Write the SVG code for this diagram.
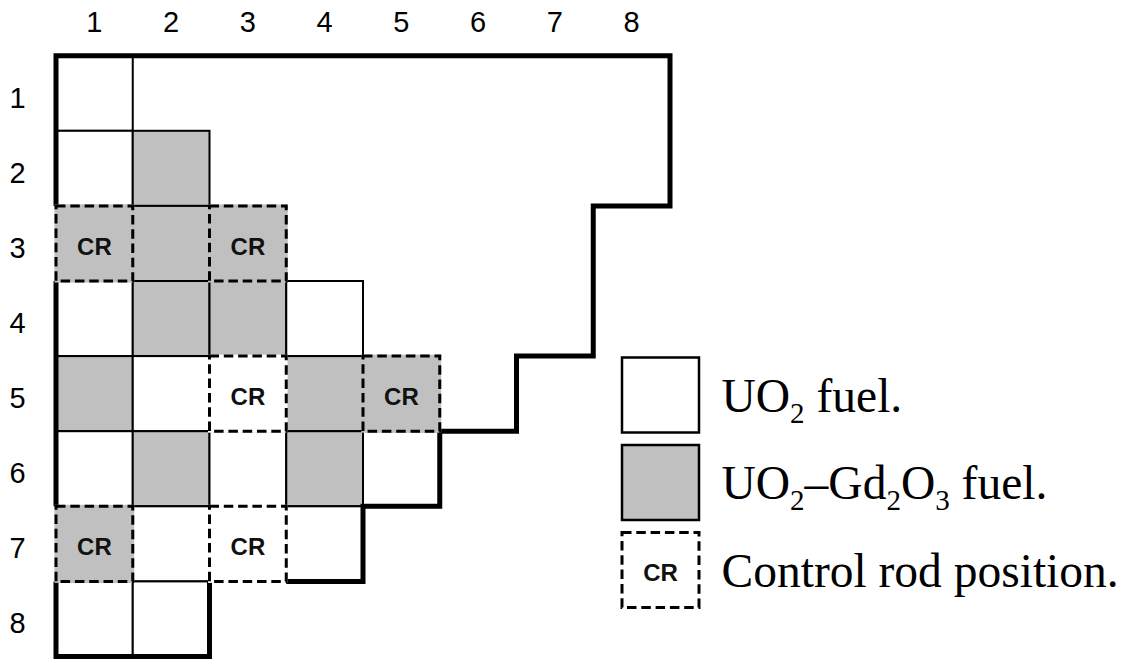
<svg xmlns="http://www.w3.org/2000/svg" width="1129" height="659" viewBox="0 0 1129 659">
  <style>
    .w { fill: #ffffff; stroke: #000; stroke-width: 2; }
    .g { fill: #c0c0c0; stroke: #000; stroke-width: 2; }
    .cr-w { fill: #ffffff; stroke: #ffffff; stroke-width: 3; }
    .cr-g { fill: #c0c0c0; stroke: #c0c0c0; stroke-width: 3; }
    .dash { fill: none; stroke: #000; stroke-width: 3; stroke-dasharray: 9.5 4.8; }
    .outline { fill: none; stroke: #000; stroke-width: 5; stroke-linejoin: miter; stroke-linecap: butt; }
    .idx { font-family: "Liberation Sans", Arial, sans-serif; font-size: 29px; fill: #000; text-anchor: middle; }
    .cr { font-family: "Liberation Sans", Arial, sans-serif; font-size: 24px; font-weight: bold; fill: #111; text-anchor: middle; }
    .leg { font-family: "Liberation Serif", "Times New Roman", serif; font-size: 47.5px; fill: #000; }
    .sub { font-size: 29px; }
  </style>
  <defs>
    <g id="cr-mark">
      <rect class="dash" x="0" y="0" width="76.75" height="75.1"/>
    </g>
  </defs>

  <rect x="0" y="0" width="1129" height="659" fill="#ffffff"/>

  <!-- column indices -->
  <g id="col-labels">
    <text class="idx" x="94.4" y="32.3">1</text>
    <text class="idx" x="171.1" y="32.3">2</text>
    <text class="idx" x="247.9" y="32.3">3</text>
    <text class="idx" x="324.6" y="32.3">4</text>
    <text class="idx" x="401.4" y="32.3">5</text>
    <text class="idx" x="478.1" y="32.3">6</text>
    <text class="idx" x="554.9" y="32.3">7</text>
    <text class="idx" x="631.6" y="32.3">8</text>
  </g>

  <!-- row indices -->
  <g id="row-labels">
    <text class="idx" x="17.5" y="107.5">1</text>
    <text class="idx" x="17.5" y="182.6">2</text>
    <text class="idx" x="17.5" y="257.7">3</text>
    <text class="idx" x="17.5" y="332.8">4</text>
    <text class="idx" x="17.5" y="407.9">5</text>
    <text class="idx" x="17.5" y="483">6</text>
    <text class="idx" x="17.5" y="558.1">7</text>
    <text class="idx" x="17.5" y="633.2">8</text>
  </g>

  <!-- fuel assemblies (plain cells) -->
  <g id="assemblies">
    <rect id="a-1-1" class="w" x="56" y="55.7" width="76.75" height="75.1"/>

    <rect id="a-2-1" class="w" x="56" y="130.8" width="76.75" height="75.1"/>
    <rect id="a-2-2" class="g" x="132.75" y="130.8" width="76.75" height="75.1"/>

    <rect id="a-3-2" class="g" x="132.75" y="205.9" width="76.75" height="75.1"/>

    <rect id="a-4-1" class="w" x="56" y="281" width="76.75" height="75.1"/>
    <rect id="a-4-2" class="g" x="132.75" y="281" width="76.75" height="75.1"/>
    <rect id="a-4-3" class="g" x="209.5" y="281" width="76.75" height="75.1"/>
    <rect id="a-4-4" class="w" x="286.25" y="281" width="76.75" height="75.1"/>

    <rect id="a-5-1" class="g" x="56" y="356.1" width="76.75" height="75.1"/>
    <rect id="a-5-2" class="w" x="132.75" y="356.1" width="76.75" height="75.1"/>
    <rect id="a-5-4" class="g" x="286.25" y="356.1" width="76.75" height="75.1"/>

    <rect id="a-6-1" class="w" x="56" y="431.2" width="76.75" height="75.1"/>
    <rect id="a-6-2" class="g" x="132.75" y="431.2" width="76.75" height="75.1"/>
    <rect id="a-6-3" class="w" x="209.5" y="431.2" width="76.75" height="75.1"/>
    <rect id="a-6-4" class="g" x="286.25" y="431.2" width="76.75" height="75.1"/>
    <rect id="a-6-5" class="w" x="363" y="431.2" width="76.75" height="75.1"/>

    <rect id="a-7-2" class="w" x="132.75" y="506.3" width="76.75" height="75.1"/>
    <rect id="a-7-4" class="w" x="286.25" y="506.3" width="76.75" height="75.1"/>

    <rect id="a-8-1" class="w" x="56" y="581.4" width="76.75" height="75.1"/>
    <rect id="a-8-2" class="w" x="132.75" y="581.4" width="76.75" height="75.1"/>
  </g>

  <!-- core boundary (heavy line) -->
  <g id="core-boundary">
    <path class="outline" d="M56,205.9 V55.7 H670 V205.9 H593.25 V356.1 H516.5 V431.2 H439.75 V506.3 H363 V581.4 H286.25"/>
    <path class="outline" d="M209.5,581.4 V656.5 H56 V581.4"/>
    <path class="outline" d="M56,506.3 V281"/>
  </g>

  <!-- control rod positions -->
  <g id="cr-3-1">
    <rect class="cr-g" x="56" y="205.9" width="76.75" height="75.1"/>
    <use href="#cr-mark" x="56" y="205.9"/>
    <text class="cr" x="94.4" y="254.5">CR</text>
  </g>
  <g id="cr-3-3">
    <rect class="cr-g" x="209.5" y="205.9" width="76.75" height="75.1"/>
    <use href="#cr-mark" x="209.5" y="205.9"/>
    <text class="cr" x="247.9" y="254.5">CR</text>
  </g>
  <g id="cr-5-3">
    <rect class="cr-w" x="209.5" y="356.1" width="76.75" height="75.1"/>
    <use href="#cr-mark" x="209.5" y="356.1"/>
    <text class="cr" x="247.9" y="404.6">CR</text>
  </g>
  <g id="cr-5-5">
    <rect class="cr-g" x="363" y="356.1" width="76.75" height="75.1"/>
    <use href="#cr-mark" x="363" y="356.1"/>
    <text class="cr" x="401.4" y="404.6">CR</text>
  </g>
  <g id="cr-7-1">
    <rect class="cr-g" x="56" y="506.3" width="76.75" height="75.1"/>
    <use href="#cr-mark" x="56" y="506.3"/>
    <text class="cr" x="94.4" y="554.8">CR</text>
  </g>
  <g id="cr-7-3">
    <rect class="cr-w" x="209.5" y="506.3" width="76.75" height="75.1"/>
    <use href="#cr-mark" x="209.5" y="506.3"/>
    <text class="cr" x="247.9" y="554.8">CR</text>
  </g>

  <!-- legend -->
  <g id="legend-uo2">
    <rect x="622" y="357.5" width="77" height="75" fill="#ffffff" stroke="#000" stroke-width="2.5"/>
    <text class="leg" x="721.5" y="411.7">UO<tspan class="sub" dy="11">2</tspan><tspan dy="-11"> fuel.</tspan></text>
  </g>
  <g id="legend-gd">
    <rect x="622" y="445" width="77" height="75" fill="#c0c0c0" stroke="#000" stroke-width="2.5"/>
    <text class="leg" x="721.5" y="499.2">UO<tspan class="sub" dy="11">2</tspan><tspan dy="-11">–Gd</tspan><tspan class="sub" dy="11">2</tspan><tspan dy="-11">O</tspan><tspan class="sub" dy="11">3</tspan><tspan dy="-11"> fuel.</tspan></text>
  </g>
  <g id="legend-cr">
    <rect x="622" y="532.5" width="77" height="75" fill="#ffffff"/>
    <rect class="dash" x="622" y="532.5" width="77" height="75"/>
    <text class="cr" x="660.5" y="580.7">CR</text>
    <text class="leg" x="721.5" y="586.5">Control rod position.</text>
  </g>
</svg>
